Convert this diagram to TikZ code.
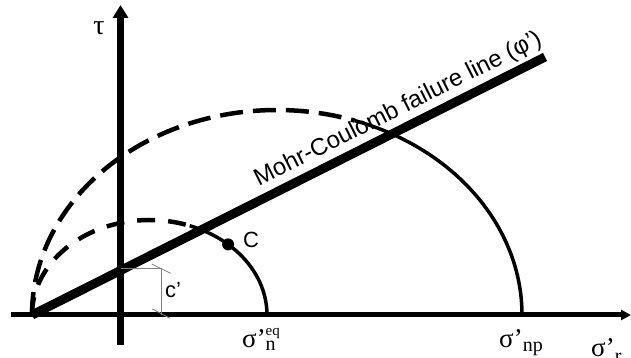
\documentclass[tikz,border=0pt]{standalone}
\usepackage{fontspec}
\setmainfont{Liberation Serif}
\newfontfamily\sansf{Liberation Sans}
\usetikzlibrary{arrows.meta,calc}
\newcommand\subsz{\fontsize{20}{20}\selectfont}
\newcommand\supsz{\fontsize{15}{15}\selectfont}
\tikzset{
  axisline/.style={line width=5pt},
  failline/.style={line width=9pt},
  solidarc/.style={line width=3.5pt},
  dasharcbig/.style={line width=4.5pt, dash pattern=on 23pt off 10pt},
  dasharcsmall/.style={line width=4.5pt, dash pattern=on 18pt off 13pt},
  thinline/.style={line width=0.8pt, gray},
  sigmalabel/.style={anchor=base west, inner sep=0pt, font=\fontsize{27}{27}\selectfont},
  sanslabel/.style={inner sep=0pt, font=\sansf\fontsize{22}{22}\selectfont},
  pointdot/.style={circle, fill=black, inner sep=0pt, minimum size=12pt}
}
\begin{document}
\begin{tikzpicture}[x=1pt,y=1pt]
\useasboundingbox (0,0) rectangle (631,358);
% axes
\coordinate (xs) at (11,43);
\coordinate (xe) at (631,43);
\coordinate (ys) at (120.5,13);
\coordinate (ye) at (120.5,353);
\draw[axisline, -{Triangle[width=10pt,length=10pt]}] (xs) -- (xe);
\draw[line width=6.5pt, -{Triangle[width=15pt,length=13pt]}] (ys) -- (ye);
% Mohr circles (origin of failure line)
\coordinate (O) at (32,43);
\coordinate (E) at (545,301);
\draw[dasharcsmall] (O) arc[start angle=180, end angle=70, x radius=117.5, y radius=95] coordinate (s1);
\draw[solidarc] (s1) arc[start angle=70, end angle=0, x radius=117.5, y radius=95] coordinate (n1);
\draw[dasharcbig] (O) arc[start angle=180, end angle=71.5, x radius=245, y radius=205] coordinate (b1);
\draw[solidarc] (b1) arc[start angle=71.5, end angle=0, x radius=245, y radius=205] coordinate (n2);
% failure line
\draw[failline] (O) -- (E);
\node[anchor=base, inner sep=0pt, rotate=26.7, font=\sansf\fontsize{24}{24}\selectfont] (fl) at (401,243) {Mohr-Coulomb failure line (φ’)};
% c' construction
\coordinate (ct) at (120.5,89.5);
\coordinate (cr) at (161.7,89.5);
\coordinate (cb) at (161.7,43);
\draw[thinline] (ct) -- (cr) -- (cb);
\coordinate (t1a) at (151.7,94);
\coordinate (t1b) at (170.7,84.7);
\coordinate (t2a) at (152.3,49);
\coordinate (t2b) at (170,39.7);
\draw[thinline] (t1a) -- (t1b);
\draw[thinline] (t2a) -- (t2b);
\node[sanslabel, anchor=west] (cl) at (165,68) {c’};
% point C
\node[pointdot] (C) at ([shift={(149.5,43)}]48:117.5 and 95) {};
\node[sanslabel, anchor=west] (Cl) at (243,118) {C};
% tau
\node[inner sep=0pt, font=\fontsize{28}{28}\selectfont] (tau) at (99,330) {τ};
% sigma labels
\node[sigmalabel] (sneq) at (242,10) {σ’\rlap{\raisebox{-3pt}{\subsz n}}\raisebox{12pt}{\supsz eq}};
\node[sigmalabel] (snp) at (499,10) {σ’\raisebox{-4pt}{\subsz np}};
\node[sigmalabel] (sr) at (591,1) {σ’\raisebox{-6pt}{\subsz r}};
\end{tikzpicture}
\end{document}
